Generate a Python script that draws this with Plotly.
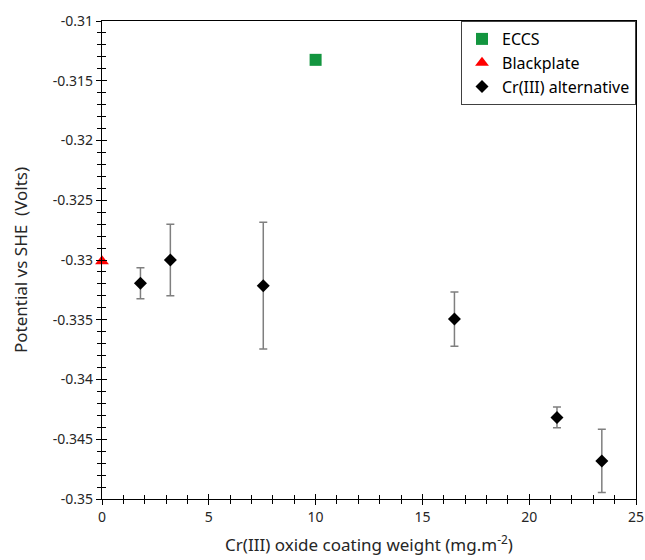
import plotly.graph_objects as go

# Data
eccs_x = [10.0]
eccs_y = [-0.31325]

black_x = [0.0]
black_y = [-0.3301]

cr_x = [1.8, 3.2, 7.55, 16.5, 21.3, 23.4]
cr_y = [-0.33195, -0.3300, -0.33215, -0.33494, -0.34317, -0.34681]
cr_err = [0.0013, 0.0030, 0.0053, 0.00227, 0.00087, 0.00265]

x_ticks = [0, 5, 10, 15, 20, 25]
x_ticklabels = ["0", "5", "10", "15", "20", "25"]
y_ticks = [-0.31, -0.315, -0.32, -0.325, -0.33, -0.335, -0.34, -0.345, -0.35]
y_ticklabels = ["-0.31", "-0.315", "-0.32", "-0.325", "-0.33", "-0.335", "-0.34", "-0.345", "-0.35"]

FONT = "Noto Sans"
TXT = "#262626"

fig = go.Figure()
fig.add_trace(go.Scatter(
    x=eccs_x, y=eccs_y, mode="markers", name="ECCS",
    marker=dict(symbol="square", size=12, color="#13953f"),
))
fig.add_trace(go.Scatter(
    x=black_x, y=black_y, mode="markers", name="Blackplate",
    marker=dict(symbol="triangle-up", size=12, color="#ff0000"),
    cliponaxis=False,
))
fig.add_trace(go.Scatter(
    x=cr_x, y=cr_y, mode="markers", name="Cr(III) alternative",
    marker=dict(symbol="diamond", size=10, color="#000000"),
    error_y=dict(type="data", array=cr_err, visible=True, color="#7f7f7f",
                 thickness=1.5, width=4),
))
# invisible trace to carry the overlay axes (inside ticks so ticks cross the axis line)
fig.add_trace(go.Scatter(x=[0], y=[-0.35], xaxis="x2", yaxis="y2",
                         mode="markers", marker=dict(opacity=0),
                         showlegend=False, hoverinfo="skip"))

axis_common = dict(showgrid=False, zeroline=False, linecolor="#000000",
                   linewidth=1.3, tickcolor="#000000", tickwidth=1.3,
                   automargin=False)

fig.update_layout(
    width=645, height=560,
    margin=dict(l=102, r=9, t=21, b=61),
    plot_bgcolor="white", paper_bgcolor="white",
    font=dict(family=FONT, color=TXT, size=14),
    xaxis=dict(range=[0, 25], tickvals=x_ticks, ticktext=x_ticklabels,
               ticks="outside", ticklen=5, mirror=True, showline=True,
               minor=dict(dtick=1, ticks="outside", ticklen=4, tickcolor="#000000", tickwidth=1.3),
               title=dict(text="Cr(III) oxide coating weight (mg.m<sup>-2</sup>)",
                          font=dict(size=17, family=FONT, color=TXT), standoff=14),
               tickfont=dict(size=14, color=TXT), **axis_common),
    yaxis=dict(range=[-0.35, -0.31], tickvals=y_ticks, ticktext=y_ticklabels,
               ticks="outside", ticklen=5, mirror=True, showline=True,
               minor=dict(dtick=0.001, tick0=-0.35, ticks="outside", ticklen=4,
                          tickcolor="#000000", tickwidth=1.3),
               title=dict(text="Potential vs SHE  (Volts)",
                          font=dict(size=17, family=FONT, color=TXT), standoff=20),
               tickfont=dict(size=14, color=TXT), **axis_common),
    xaxis2=dict(overlaying="x", range=[0, 25], tickvals=x_ticks, side="bottom",
                ticks="inside", ticklen=5, showticklabels=False, showline=False,
                showgrid=False, zeroline=False, tickcolor="#000000", tickwidth=1.3,
                minor=dict(dtick=1, ticks="inside", ticklen=4, tickcolor="#000000", tickwidth=1.3)),
    yaxis2=dict(overlaying="y", range=[-0.35, -0.31], tickvals=y_ticks, side="left",
                ticks="inside", ticklen=5, showticklabels=False, showline=False,
                showgrid=False, zeroline=False, tickcolor="#000000", tickwidth=1.3,
                minor=dict(dtick=0.001, tick0=-0.35, ticks="inside", ticklen=4,
                           tickcolor="#000000", tickwidth=1.3)),
    legend=dict(x=1, xanchor="right", y=1, yanchor="top",
                bordercolor="#404040", borderwidth=1, bgcolor="white",
                font=dict(size=16, family=FONT, color="#000000"),
                itemwidth=30, tracegroupgap=0),
    showlegend=True,
)

fig.write_html("out.html")
